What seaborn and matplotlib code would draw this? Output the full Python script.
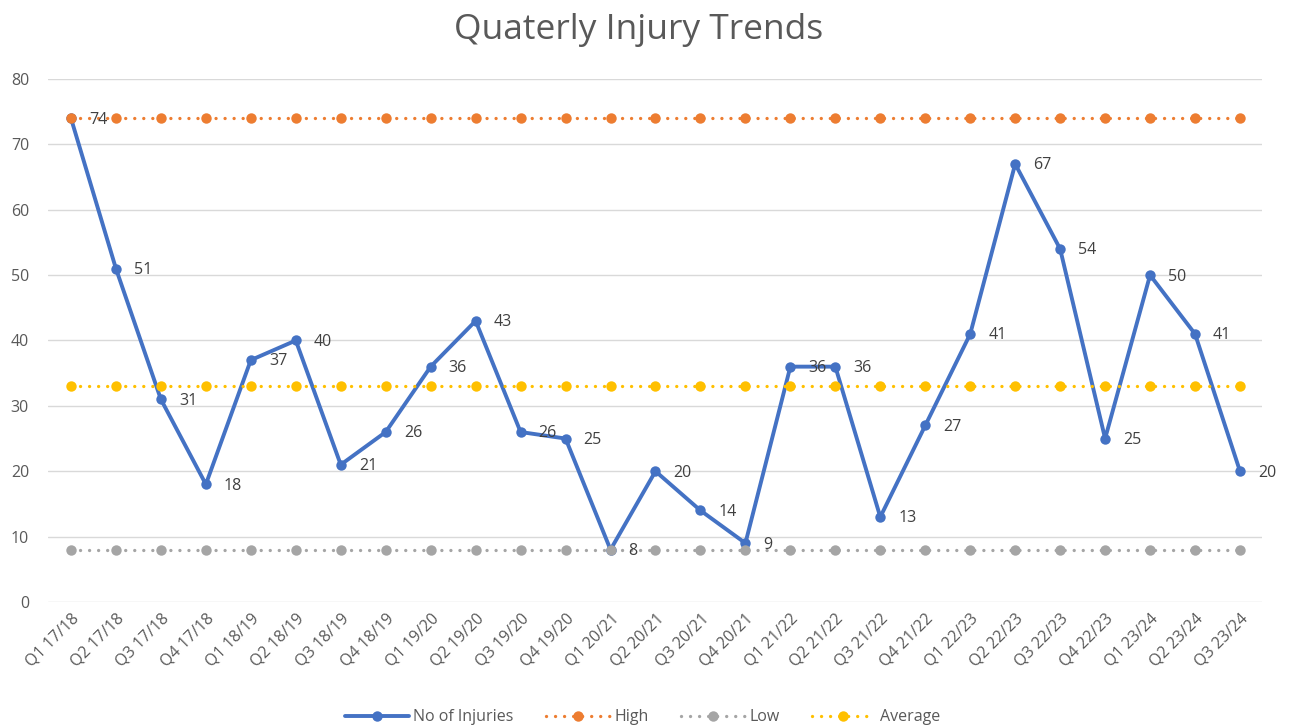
import matplotlib
matplotlib.use("Agg")
import matplotlib.pyplot as plt
import seaborn as sns
import pandas as pd

quarters = ["Q1 17/18", "Q2 17/18", "Q3 17/18", "Q4 17/18",
            "Q1 18/19", "Q2 18/19", "Q3 18/19", "Q4 18/19",
            "Q1 19/20", "Q2 19/20", "Q3 19/20", "Q4 19/20",
            "Q1 20/21", "Q2 20/21", "Q3 20/21", "Q4 20/21",
            "Q1 21/22", "Q2 21/22", "Q3 21/22", "Q4 21/22",
            "Q1 22/23", "Q2 22/23", "Q3 22/23", "Q4 22/23",
            "Q1 23/24", "Q2 23/24", "Q3 23/24"]
injuries = [74, 51, 31, 18, 37, 40, 21, 26, 36, 43, 26, 25, 8, 20, 14, 9,
            36, 36, 13, 27, 41, 67, 54, 25, 50, 41, 20]
high = [74] * len(quarters)
low = [8] * len(quarters)
average = [33] * len(quarters)

sns.set_theme(style="white")
plt.rcParams['font.family'] = ['Open Sans', 'DejaVu Sans']

fig = plt.figure(figsize=(12.93, 7.26), dpi=100)
ax = fig.add_axes([0.0375, 0.1708, 0.9389, 0.7204])

x = list(range(len(quarters)))
df = pd.DataFrame({"x": x, "injuries": injuries, "high": high, "low": low, "average": average})

sns.lineplot(data=df, x="x", y="injuries", ax=ax, color="#4472C4", linewidth=2.8,
             marker="o", markersize=7.5, markeredgewidth=0, label="No of Injuries", zorder=2)
for col, color, lab in [("high", "#ED7D31", "High"), ("low", "#A5A5A5", "Low"),
                        ("average", "#FFC000", "Average")]:
    sns.lineplot(data=df, x="x", y=col, ax=ax, color=color, linewidth=2.4,
                 linestyle=(0, (0.01, 2.7)), dash_capstyle="round",
                 marker="o", markersize=7.5, markeredgewidth=0, label=lab, zorder=3)

for xi, v in zip(x, injuries):
    ax.annotate(str(v), (xi, v), xytext=(13, -1), textcoords="offset points",
                ha="left", va="center", fontsize=11.5, color="#404040", zorder=4)

ax.set_xlim(-0.5, len(quarters) - 0.5)
ax.set_ylim(0, 80)
ax.set_yticks(range(0, 81, 10))
ax.set_xticks(x)
ax.set_xticklabels(quarters, rotation=45, ha="right", rotation_mode="anchor",
                   fontsize=11.5, color="#595959")
ax.tick_params(axis="y", labelsize=11.5, labelcolor="#595959", length=0, pad=14)
ax.tick_params(axis="x", length=0, pad=6)
ax.set_xlabel("")
ax.set_ylabel("")
ax.yaxis.grid(True, color="#D9D9D9", linewidth=1)
ax.xaxis.grid(False)
for s in ax.spines.values():
    s.set_visible(False)

ax.legend_.remove()
handles, labels = ax.get_legend_handles_labels()
fig.legend(handles, labels, loc="center", bbox_to_anchor=(0.497, 0.012), ncol=4,
           frameon=False, fontsize=11.5, labelcolor="#595959", handlelength=4.0,
           columnspacing=2.0, handletextpad=0.3)

fig.text(0.494, 0.958, "Quaterly Injury Trends", ha="center", va="center",
         fontsize=25.5, color="#595959")

fig.savefig("out.png", dpi=100)
